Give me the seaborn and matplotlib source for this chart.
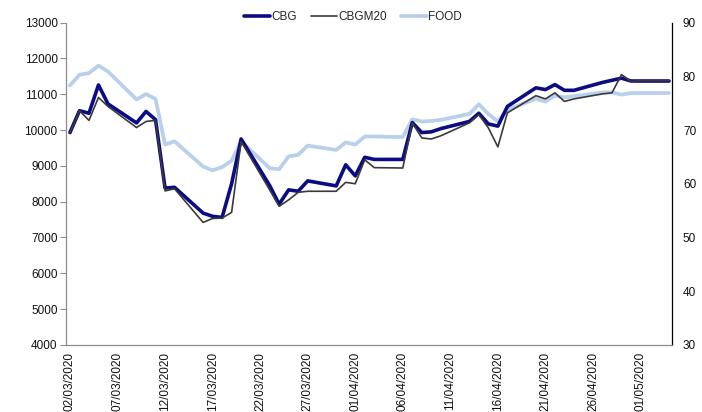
import matplotlib
matplotlib.use("Agg")
import matplotlib.pyplot as plt
import matplotlib.dates as mdates
import pandas as pd
import seaborn as sns

# ---- data (business days, 02/03/2020 - 04/05/2020) ----
dates = pd.bdate_range("2020-03-02", "2020-05-04")
cbg = [9930, 10540, 10470, 11260, 10730, 10200, 10520, 10290, 8380, 8400,
       7680, 7590, 7560, 8500, 9750, 8450, 7930, 8330, 8290, 8580,
       8440, 9030, 8720, 9240, 9180, 9180, 10210, 9930, 9950, 10040,
       10240, 10470, 10170, 10110, 10660, 11180, 11130, 11270, 11110, 11110,
       11330, 11390, 11450, 11370, 11370, 11370]
cbgm20 = [9930, 10540, 10270, 10910, 10660, 10070, 10240, 10270, 8300, 8360,
          7420, 7530, 7540, 7700, 9680, 8330, 7870, 8050, 8260, 8290,
          8290, 8540, 8500, 9170, 8950, 8940, 10200, 9780, 9750, 9840,
          10200, 10430, 10060, 9530, 10480, 10960, 10870, 11040, 10800, 10870,
          11010, 11040, 11550, 11360, 11380, 11380]
food = [78.3, 80.3, 80.6, 82.0, 80.9, 75.7, 76.7, 75.8, 67.3, 67.9,
        63.2, 62.5, 63.1, 64.3, 67.9, 62.9, 62.7, 65.1, 65.4, 67.1,
        66.3, 67.7, 67.3, 68.8, 68.8, 68.7, 72.0, 71.6, 71.7, 71.9,
        73.0, 74.8, 73.0, 71.6, 73.8, 75.8, 75.3, 76.4, 76.1, 76.3,
        77.0, 77.0, 76.6, 76.9, 76.9, 76.9]
tick_dates = pd.date_range("2020-03-02", "2020-05-01", freq="5D")

df = pd.DataFrame({"date": dates, "CBG": cbg, "CBGM20": cbgm20, "FOOD": food})

sns.set_style("white")
plt.rcParams["font.family"] = ["Liberation Sans", "DejaVu Sans"]

fig = plt.figure(figsize=(7.02, 4.12), dpi=100)
ax = fig.add_axes([0.094, 0.163, 0.863, 0.782])
ax2 = ax.twinx()

# secondary axis series (drawn behind)
sns.lineplot(data=df, x="date", y="FOOD", ax=ax2, color="#b8d0ea", lw=2.7,
             label="FOOD", legend=False)
# primary axis series
sns.lineplot(data=df, x="date", y="CBG", ax=ax, color="#0b0b85", lw=2.6,
             label="CBG", legend=False)
sns.lineplot(data=df, x="date", y="CBGM20", ax=ax, color="#3a3a3a", lw=1.2,
             label="CBGM20", legend=False)
ax.set_zorder(ax2.get_zorder() + 1)
ax.patch.set_visible(False)

ax.set_ylim(4000, 13000)
ax.set_yticks(range(4000, 13001, 1000))
ax2.set_ylim(30, 90)
ax2.set_yticks(range(30, 91, 10))
ax.set_xlim(dates[0] - pd.Timedelta(hours=10), dates[-1] + pd.Timedelta(hours=7))
ax.set_xticks(tick_dates)
ax.xaxis.set_major_formatter(mdates.DateFormatter("%d/%m/%Y"))
ax.set_xlabel(""); ax.set_ylabel(""); ax2.set_ylabel("")

for s in ["top", "right"]:
    ax.spines[s].set_visible(False)
for s in ["top", "left", "bottom"]:
    ax2.spines[s].set_visible(False)
ax.spines["left"].set_color("#8c8c8c")
ax.spines["bottom"].set_color("#8c8c8c")
ax2.spines["right"].set_color("black")
for s in [ax.spines["left"], ax.spines["bottom"], ax2.spines["right"]]:
    s.set_linewidth(0.9)

ax.tick_params(axis="y", left=True, length=4, width=0.8, color="#8c8c8c",
               labelsize=8.5, pad=2, labelcolor="#111111")
ax.tick_params(axis="x", bottom=False, length=0, labelsize=8.5, pad=5,
               labelrotation=90, labelcolor="#111111")
ax2.tick_params(axis="y", right=False, length=0, labelsize=8.5, pad=8,
                labelcolor="#111111")

h1, l1 = ax.get_legend_handles_labels()
h2, l2 = ax2.get_legend_handles_labels()
fig.legend(h1 + h2, l1 + l2, loc="center", bbox_to_anchor=(0.503, 0.959),
           ncol=3, frameon=False, fontsize=8.5, handlelength=2.2,
           handletextpad=0.1, columnspacing=1.2)

plt.savefig("out.png", dpi=100)
plt.close()
